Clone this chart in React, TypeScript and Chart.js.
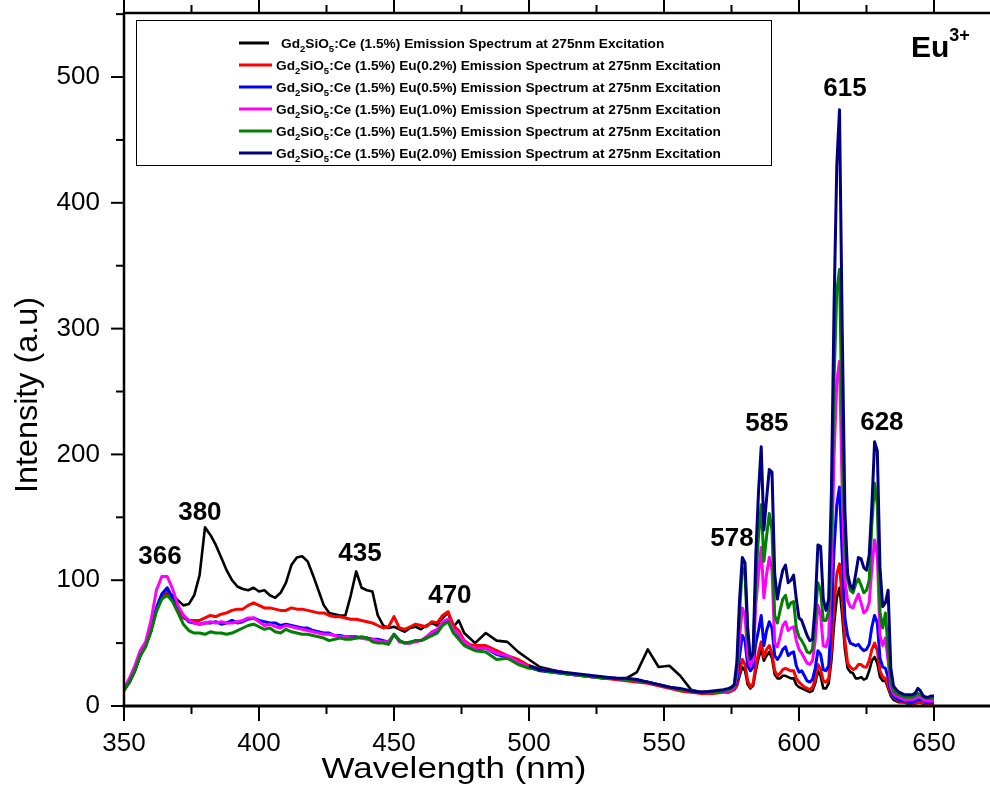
import React, { useEffect, useRef } from "react";
import { Chart, registerables } from "chart.js";

Chart.register(...registerables);

// ---------- data ----------
const wavelength: number[] = [
  350, 352, 354, 356, 358, 360, 362, 364, 366, 368,
  370, 372, 374, 376, 378, 380, 382, 384, 386, 388,
  390, 392, 394, 396, 398, 400, 402, 404, 406, 408,
  410, 412, 414, 416, 418, 420, 422, 424, 426, 428,
  430, 432, 434, 436, 438, 440, 442, 444, 446, 448,
  450, 452, 454, 456, 458, 460, 462, 464, 466, 468,
  470, 472, 474, 476, 478, 480,
  484, 488, 492, 496, 500, 504, 508, 512, 516, 520, 524, 528, 532, 536, 540, 544, 548, 552, 556, 560, 564, 568, 572,
  574, 575, 576, 577, 578, 579, 580, 581, 582, 583,
  584, 585, 586, 587, 588, 589, 590, 591, 592, 593,
  594, 595, 596, 597, 598, 599, 600, 601, 602, 603,
  604, 605, 606, 607, 608, 609, 610, 611, 612, 613,
  614, 615, 616, 617, 618, 619, 620, 621, 622, 623,
  624, 625, 626, 627, 628, 629, 630, 631, 632, 633,
  634, 635, 636, 637, 638, 639, 640, 641, 642, 643,
  644, 645, 646, 647, 648, 649, 650,
];

const ceOnly: (number | null)[] = [
  13, 19, 28, 40, 48, 60, 76, 86, 90, 88,
  84, 80, 81, 88, 104, 142, 136, 128, 118, 108,
  100, 95, 93, 92, 94, 91, 92, 88, 86, 90,
  98, 112, 118, 119, 115, 104, 92, 80, 74, 73,
  72, 72, 88, 107, 94, 92, 91, 72, 64, 62,
  63, 61, 59, 62, 63, 61, 64, 66, 64, 70,
  74, 63, 68, 58, 54, 50,
  58, 52, 51, 43, 37, 31, 29, 27, 25, 24, 23, 22, 22, 22, 27, 45, 31, 32, 24, 13, 11, 11, 12,
  11, 12, 13, 16, 24, 31, 28, 17, 14, 16,
  28, 38, 45, 36, 40, 43, 38, 25, 22, 22,
  24, 24, 23, 22, 22, 17, 15, 14, 13, 12,
  11, 12, 18, 28, 24, 14, 14, 18, 36, 65,
  86, 94, 72, 45, 30, 27, 26, 22, 22, 23,
  21, 22, 28, 36, 39, 34, 23, 20, 20, 14,
  8, 5, 4, 3, 3, 3, 2, 2, 2, 2,
  3, 3, 2, 2, 2, 2, 2,
];

const eu02: (number | null)[] = [
  13, 19, 28, 40, 48, 60, 77, 87, 92, 86,
  78, 70, 68, 68, 68, 70, 72, 71, 73, 74,
  76, 77, 77, 80, 82, 80, 78, 78, 77, 76,
  76, 78, 77, 77, 76, 75, 74, 74, 72, 71,
  71, 70, 69, 69, 68, 67, 66, 64, 62, 63,
  71, 62, 61, 63, 65, 64, 63, 67, 66, 72,
  75, 64, 60, 52, 49, 48,
  48, 44, 40, 37, 32, 29, 28, 26, 25, 24, 23, 22, 21, 20, 19, 18, 16, 14, 12, 11, 10, 10, 11,
  11, 12, 13, 17, 28, 37, 33, 20, 15, 18,
  32, 42, 51, 39, 45, 48, 42, 28, 24, 26,
  29, 30, 29, 28, 28, 22, 19, 17, 15, 14,
  13, 15, 21, 33, 29, 20, 19, 22, 45, 80,
  105, 113, 85, 52, 34, 31, 29, 30, 33, 33,
  31, 31, 36, 45, 50, 44, 28, 23, 22, 16,
  10, 7, 5, 4, 3, 3, 3, 3, 2, 2,
  3, 3, 2, 2, 2, 2, 2,
];

const eu05: (number | null)[] = [
  13, 19, 28, 40, 48, 60, 78, 89, 94, 86,
  79, 72, 67, 66, 65, 66, 66, 67, 65, 66,
  68, 66, 67, 69, 70, 68, 67, 66, 66, 64,
  65, 64, 63, 62, 62, 60, 59, 58, 58, 56,
  56, 55, 55, 55, 54, 54, 53, 53, 52, 51,
  57, 52, 50, 50, 52, 52, 54, 58, 60, 66,
  68, 61, 56, 50, 47, 45,
  46, 41, 39, 34, 31, 28, 27, 26, 25, 24, 23, 22, 22, 21, 20, 19, 17, 15, 13, 12, 11, 11, 12,
  12, 13, 15, 20, 40, 56, 52, 32, 28, 31,
  50, 60, 72, 48, 60, 67, 62, 40, 37, 40,
  45, 47, 40, 42, 43, 32, 27, 28, 24, 20,
  19, 21, 30, 44, 41, 29, 28, 32, 70, 125,
  160, 174, 120, 70, 56, 50, 49, 48, 49, 46,
  44, 45, 49, 63, 72, 66, 38, 31, 30, 23,
  12, 8, 6, 5, 4, 4, 4, 3, 3, 4,
  5, 5, 4, 3, 3, 3, 3,
];

const eu10: (number | null)[] = [
  14, 22, 32, 44, 51, 68, 92, 103, 103, 93,
  80, 72, 68, 66, 65, 66, 67, 66, 67, 66,
  66, 67, 68, 70, 70, 67, 64, 65, 63, 62,
  64, 63, 62, 61, 60, 59, 58, 57, 57, 56,
  55, 55, 54, 54, 54, 53, 53, 52, 51, 51,
  57, 51, 50, 50, 51, 52, 55, 59, 61, 67,
  69, 61, 57, 51, 48, 46,
  46, 42, 40, 35, 31, 29, 28, 27, 25, 24, 23, 22, 22, 21, 20, 19, 17, 15, 13, 12, 11, 11, 12,
  12, 13, 15, 25, 55, 78, 72, 40, 32, 36,
  80, 105, 126, 86, 105, 118, 108, 50, 47, 55,
  64, 67, 60, 62, 63, 52, 45, 42, 38, 34,
  33, 36, 52, 80, 72, 48, 47, 55, 110, 200,
  258, 274, 170, 100, 84, 79, 78, 84, 89, 82,
  74, 76, 82, 110, 132, 120, 56, 48, 54, 36,
  15, 10, 8, 7, 6, 5, 5, 5, 5, 6,
  8, 7, 5, 4, 4, 4, 4,
];

const eu15: (number | null)[] = [
  12, 19, 28, 40, 47, 59, 75, 85, 88, 83,
  74, 65, 60, 58, 58, 57, 59, 58, 58, 57,
  58, 60, 62, 64, 65, 63, 61, 62, 59, 58,
  61, 59, 58, 57, 57, 56, 55, 54, 52, 53,
  54, 53, 53, 54, 55, 54, 51, 50, 50, 49,
  57, 52, 50, 51, 52, 52, 54, 56, 58, 64,
  67, 58, 53, 48, 46, 44,
  43, 37, 38, 33, 30, 29, 27, 26, 25, 24, 23, 22, 22, 21, 20, 19, 17, 15, 13, 12, 11, 11, 12,
  13, 14, 16, 30, 75, 110, 105, 55, 38, 42,
  100, 135, 160, 115, 135, 153, 140, 72, 66, 76,
  85, 88, 78, 82, 83, 62, 55, 52, 48, 43,
  42, 45, 70, 98, 92, 68, 68, 75, 140, 260,
  330, 347, 220, 128, 101, 92, 90, 97, 101, 96,
  90, 92, 100, 145, 177, 160, 75, 62, 74, 45,
  20, 12, 10, 9, 8, 7, 7, 7, 7, 8,
  10, 9, 7, 6, 6, 6, 6,
];

const eu20: (number | null)[] = [
  null, null, null, null, null, null, null, null, null, null,
  null, null, null, null, null, null, null, null, null, null,
  null, null, null, null, null, null, null, null, null, null,
  null, null, null, null, null, null, null, null, null, null,
  null, null, null, null, null, null, null, null, null, null,
  null, null, null, null, null, null, null, null, null, null,
  null, null, null, null, null, null,
  null, null, null, null, 32, 29, 28, 27, 26, 25, 24, 23, 22, 22, 21, 19, 17, 15, 14, 12, 11, 12, 13,
  14, 15, 17, 35, 85, 118, 114, 62, 37, 42,
  120, 170, 206, 140, 165, 188, 186, 105, 85, 98,
  108, 112, 98, 100, 104, 85, 70, 68, 62, 56,
  52, 53, 80, 128, 127, 85, 76, 85, 170, 320,
  430, 474, 300, 155, 105, 96, 93, 105, 118, 117,
  110, 108, 120, 160, 210, 203, 110, 79, 82, 92,
  30, 16, 13, 11, 10, 9, 9, 9, 9, 10,
  14, 12, 8, 7, 7, 8, 8,
];

const seriesValues = [ceOnly, eu02, eu05, eu10, eu15, eu20];
const seriesColors = ["#000000", "#ff0000", "#0000ff", "#ff00ff", "#008000", "#000080"];
const seriesWidths = [2.6, 3, 3, 3, 3, 3];
const legendSuffixes = [
  ":Ce (1.5%) Emission Spectrum at 275nm Excitation",
  ":Ce (1.5%) Eu(0.2%) Emission Spectrum at 275nm Excitation",
  ":Ce (1.5%) Eu(0.5%) Emission Spectrum at 275nm Excitation",
  ":Ce (1.5%) Eu(1.0%) Emission Spectrum at 275nm Excitation",
  ":Ce (1.5%) Eu(1.5%) Emission Spectrum at 275nm Excitation",
  ":Ce (1.5%) Eu(2.0%) Emission Spectrum at 275nm Excitation",
];

const xTickValues = [350, 400, 450, 500, 550, 600, 650];
const xMinorTicks = [375, 425, 475, 525, 575, 625];
const yTickValues = [0, 100, 200, 300, 400, 500];
const yMinorTicks = [50, 150, 250, 350, 450, 550];

const peakTexts = ["366", "380", "435", "470", "578", "585", "615", "628"];
const peakTextX = [363.3, 378.1, 437.4, 470.7, 575.2, 588.1, 617.0, 630.7];
const peakTextY = [118.4, 153.4, 120.8, 87.4, 132.8, 224.2, 490.5, 225.0];

const xTitle = "Wavelength (nm)";
const yTitle = "Intensity (a.u)";

const FONT = '"Liberation Sans", Arial, Helvetica, sans-serif';

const decorPlugin = {
  id: "decor",
  afterDatasetsDraw(chart: any) {
    const { ctx, chartArea: a, scales } = chart;
    const xs = scales.x;
    const ys = scales.y;
    ctx.save();
    ctx.strokeStyle = "#000";
    ctx.fillStyle = "#000";
    ctx.lineCap = "butt";
    const line = (x1: number, y1: number, x2: number, y2: number) => {
      ctx.beginPath();
      ctx.moveTo(x1, y1);
      ctx.lineTo(x2, y2);
      ctx.stroke();
    };
    // axes frame
    ctx.lineWidth = 3;
    line(a.left - 1.5, a.bottom, a.right, a.bottom);
    ctx.lineWidth = 2.5;
    line(a.left, a.top, a.right, a.top);
    line(a.left, a.top - 1, a.left, a.bottom);
    // ticks
    ctx.lineWidth = 2;
    xTickValues.forEach((v) => {
      const p = xs.getPixelForValue(v);
      line(p, a.bottom, p, a.bottom + 15);
      line(p, a.top, p, a.top - 14);
    });
    xMinorTicks.forEach((v) => {
      const p = xs.getPixelForValue(v);
      line(p, a.bottom, p, a.bottom + 8);
      line(p, a.top, p, a.top - 8);
    });
    yTickValues.forEach((v) => {
      const p = ys.getPixelForValue(v);
      line(a.left - 13, p, a.left, p);
    });
    yMinorTicks.forEach((v) => {
      const p = ys.getPixelForValue(v);
      line(a.left - 8, p, a.left, p);
    });

    // legend
    const lx = 136, ly = 20, lw = 635, lh = 145;
    ctx.fillStyle = "#fff";
    ctx.fillRect(lx, ly, lw, lh);
    ctx.lineWidth = 1;
    ctx.strokeStyle = "#000";
    ctx.strokeRect(lx + 0.5, ly + 0.5, lw, lh);
    ctx.textAlign = "left";
    ctx.textBaseline = "alphabetic";
    seriesColors.forEach((c, i) => {
      const cy = 43 + i * 22;
      ctx.strokeStyle = c;
      ctx.lineWidth = 3;
      line(239, cy, i === 0 ? 269 : 272, cy);
      let tx = i === 0 ? 281 : 276;
      const base = cy + 5;
      ctx.fillStyle = "#000";
      const big = "bold 13.7px " + FONT;
      const sub = "bold 9.5px " + FONT;
      const parts: [string, string, number][] = [
        ["Gd", big, 0],
        ["2", sub, 4],
        ["SiO", big, 0],
        ["5", sub, 4],
        [legendSuffixes[i], big, 0],
      ];
      parts.forEach(([t, f, dy]) => {
        ctx.font = f;
        ctx.fillText(t, tx, base + dy);
        tx += ctx.measureText(t).width;
      });
    });

    // peak labels
    ctx.fillStyle = "#000";
    ctx.font = "bold 26px " + FONT;
    ctx.textAlign = "center";
    ctx.textBaseline = "middle";
    peakTexts.forEach((t, i) => {
      ctx.fillText(t, xs.getPixelForValue(peakTextX[i]), ys.getPixelForValue(peakTextY[i]));
    });

    // Eu3+
    ctx.textAlign = "left";
    ctx.textBaseline = "alphabetic";
    ctx.font = "bold 30px " + FONT;
    ctx.fillText("Eu", 911, 57);
    const euW = ctx.measureText("Eu").width;
    ctx.font = "bold 18px " + FONT;
    ctx.fillText("3+", 911 + euW, 41);

    // axis titles
    ctx.font = "30px " + FONT;
    ctx.textAlign = "center";
    ctx.textBaseline = "alphabetic";
    const wx = ctx.measureText(xTitle).width;
    ctx.save();
    ctx.translate(454, 778);
    ctx.scale(265 / wx, 1);
    ctx.fillText(xTitle, 0, 0);
    ctx.restore();

    ctx.font = "32px " + FONT;
    const wy = ctx.measureText(yTitle).width;
    ctx.save();
    ctx.translate(37, 395);
    ctx.rotate(-Math.PI / 2);
    ctx.scale(196 / wy, 1);
    ctx.fillText(yTitle, 0, 0);
    ctx.restore();

    ctx.restore();
  },
};

export default function App() {
  const ref = useRef<HTMLCanvasElement>(null);
  useEffect(() => {
    const canvas = ref.current;
    if (!canvas) return;
    const datasets = seriesValues.map((vals, i) => ({
      label: "Gd2SiO5" + legendSuffixes[i],
      data: wavelength.map((w, k) => ({ x: w, y: vals[k] })),
      borderColor: seriesColors[i],
      backgroundColor: seriesColors[i],
      borderWidth: seriesWidths[i],
      borderJoinStyle: "round",
      pointRadius: 0,
      tension: 0,
      fill: false,
      spanGaps: false,
      order: 5 - i,
    }));
    const chart = new Chart(canvas, {
      type: "line",
      data: { datasets },
      options: {
        responsive: false,
        devicePixelRatio: 1,
        animation: false,
        events: [],
        layout: { padding: { top: 13, left: 0, right: 0, bottom: 0 } },
        plugins: { legend: { display: false }, tooltip: { enabled: false }, title: { display: false } },
        scales: {
          x: {
            type: "linear",
            min: 350,
            max: 670.74,
            grid: { display: false, drawTicks: false },
            border: { display: false },
            ticks: {
              color: "#000",
              font: { family: FONT, size: 26 },
              padding: 22,
              maxRotation: 0,
              autoSkip: false,
            },
            afterBuildTicks: (scale: any) => {
              scale.ticks = xTickValues.map((v) => ({ value: v }));
            },
            afterFit: (scale: any) => {
              scale.height = 81;
              scale.paddingLeft = 0;
              scale.paddingRight = 0;
              scale.paddingTop = 0;
              scale.paddingBottom = 0;
            },
          },
          y: {
            type: "linear",
            min: 0,
            max: 550.9,
            grid: { display: false, drawTicks: false },
            border: { display: false },
            ticks: {
              color: "#000",
              font: { family: FONT, size: 26 },
              padding: 24,
              autoSkip: false,
            },
            afterBuildTicks: (scale: any) => {
              scale.ticks = yTickValues.map((v) => ({ value: v }));
            },
            afterFit: (scale: any) => {
              scale.width = 124;
              scale.paddingLeft = 0;
              scale.paddingRight = 0;
              scale.paddingTop = 0;
              scale.paddingBottom = 0;
            },
          },
        },
      },
      plugins: [decorPlugin],
    } as any);
    return () => chart.destroy();
  }, []);

  return (
    <div style={{ position: "absolute", left: 0, top: 0, width: 990, height: 787, background: "#fff" }}>
      <canvas ref={ref} width={990} height={787} style={{ display: "block" }} />
    </div>
  );
}
